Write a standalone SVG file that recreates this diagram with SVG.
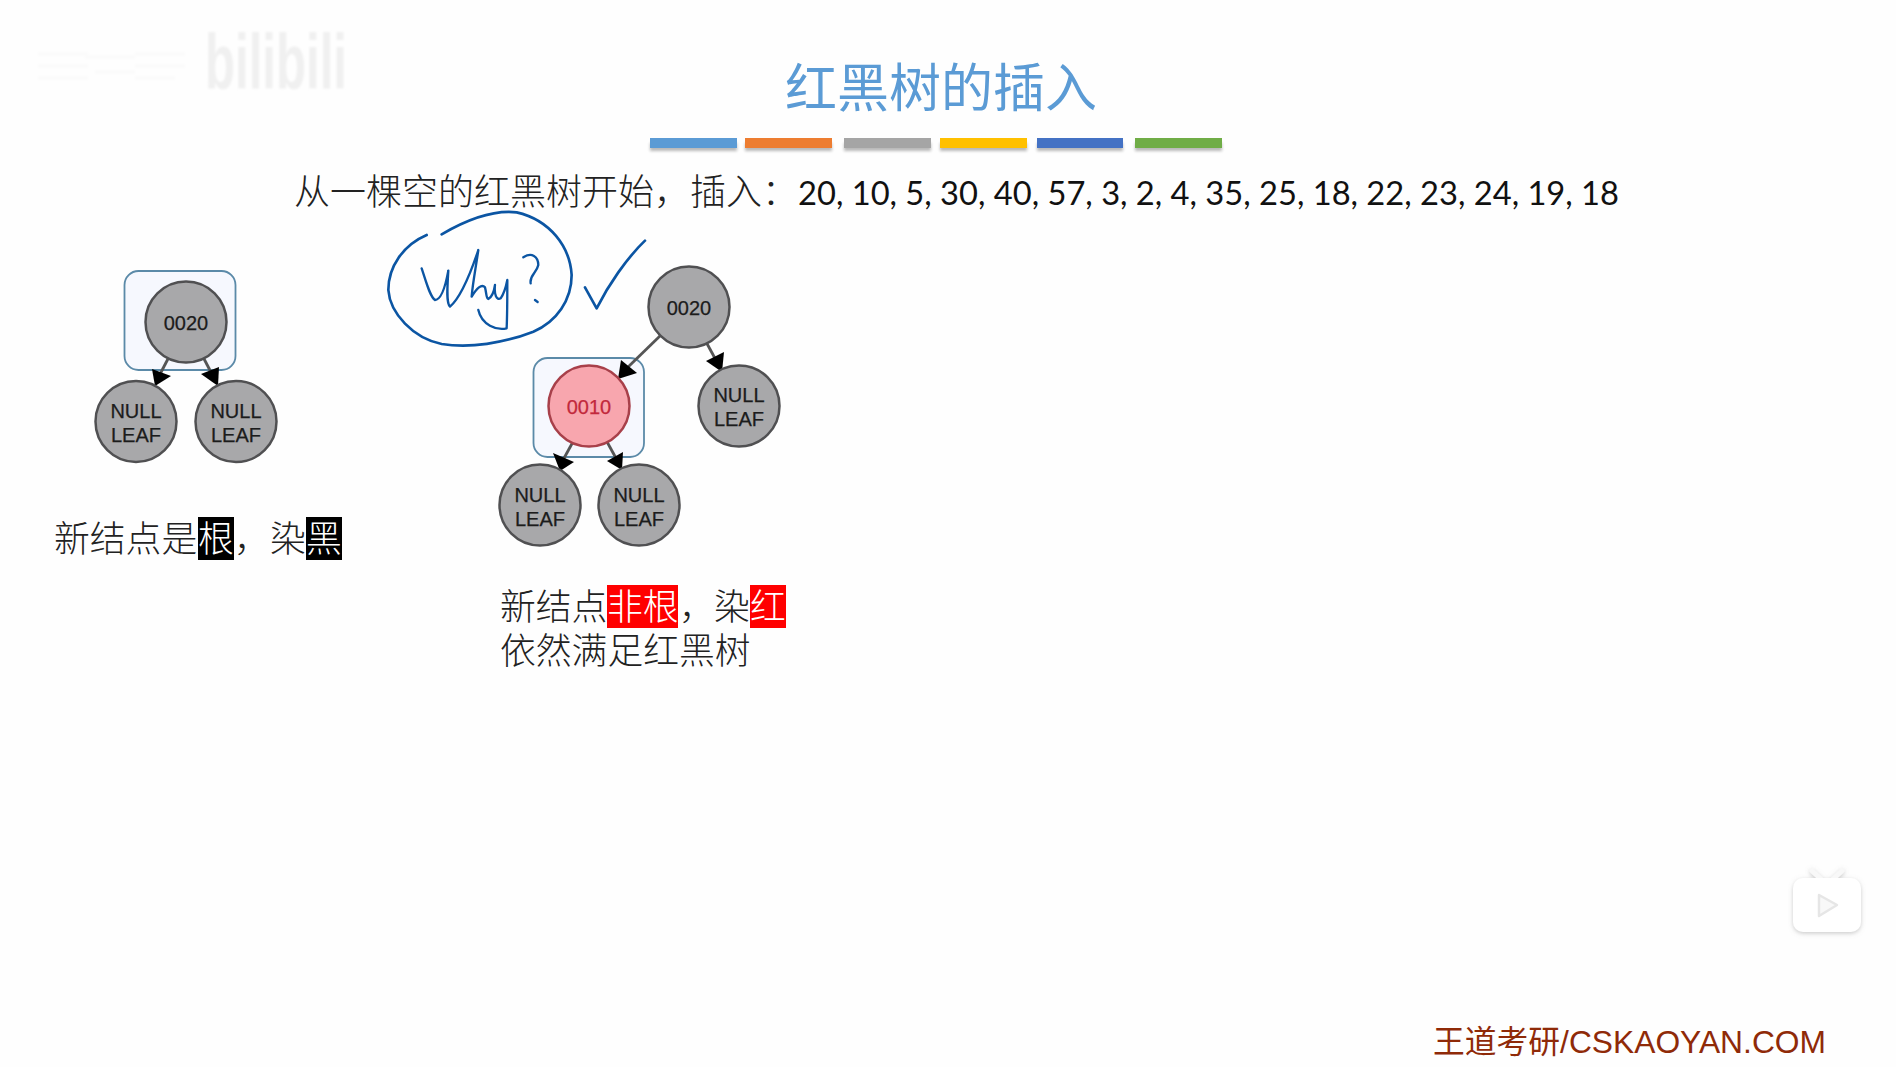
<svg xmlns="http://www.w3.org/2000/svg" width="1896" height="1067" viewBox="0 0 1896 1067">
<defs>
<style>
.cjk{font-family:"Noto Sans CJK SC","Liberation Sans",sans-serif;font-weight:300}
.body{font-size:35.8px;fill:#222}
.inv{font-size:35.8px;fill:#fff}
.n{fill:#a8a8aa;stroke:#505052;stroke-width:2.5}
.r{fill:#f8a6ae;stroke:#a8404a;stroke-width:2.5}
.t{font-family:"Liberation Sans",Arial,sans-serif;font-size:20px;fill:#1c1c1c;text-anchor:middle;stroke:#1c1c1c;stroke-width:0.25}
.box{fill:#f6f8fe;stroke:#5b8aa8;stroke-width:1.8}
.e{stroke:#555;stroke-width:2.8;fill:none}
.h{fill:#000}
.ink{fill:none;stroke:#0b55a3;stroke-width:8;stroke-linecap:round;stroke-linejoin:round}
.ink2{stroke-width:7}
.wm{fill:#f0f0f0}
.sm{fill:#fbfbfb}
</style>
<filter id="sh" x="-10%" y="-50%" width="120%" height="220%"><feGaussianBlur stdDeviation="1.5"/></filter>
<filter id="soft" x="-5%" y="-5%" width="110%" height="110%"><feGaussianBlur stdDeviation="0.8"/></filter>
<filter id="ic" x="-20%" y="-20%" width="140%" height="140%"><feDropShadow dx="0" dy="1.5" stdDeviation="2" flood-color="#999" flood-opacity="0.5"/></filter>
</defs>
<rect width="1896" height="1067" fill="#fefefe"/>

<g id="watermark" filter="url(#soft)">
<rect class="sm" x="38" y="52" width="50" height="4"/><rect class="sm" x="38" y="64" width="50" height="4"/><rect class="sm" x="38" y="76" width="50" height="4"/>
<rect class="sm" x="85" y="55" width="50" height="4"/><rect class="sm" x="95" y="70" width="40" height="4"/>
<rect class="sm" x="135" y="52" width="50" height="4"/><rect class="sm" x="135" y="64" width="50" height="4"/><rect class="sm" x="135" y="76" width="40" height="4"/>
<text x="205" y="89" font-family="Liberation Sans,sans-serif" font-weight="700" font-size="78" class="wm" textLength="142" lengthAdjust="spacingAndGlyphs">bilibili</text>
</g>

<g id="title"><text class="cjk" x="941" y="107" font-size="52" fill="#5b9bd5" text-anchor="middle" style="font-weight:400">红黑树的插入</text></g>

<g id="bars">
<g fill="#8a8a8a" opacity="0.6" filter="url(#sh)">
<rect x="650" y="143" width="87" height="8"/><rect x="745" y="143" width="87" height="8"/><rect x="844" y="143" width="87" height="8"/><rect x="940" y="143" width="87" height="8"/><rect x="1037" y="143" width="86" height="8"/><rect x="1135" y="143" width="87" height="8"/>
</g>
<rect x="650" y="138" width="87" height="10" fill="#5b9bd5"/>
<rect x="745" y="138" width="87" height="10" fill="#ed7d31"/>
<rect x="844" y="138" width="87" height="10" fill="#a5a5a5"/>
<rect x="940" y="138" width="87" height="10" fill="#ffc000"/>
<rect x="1037" y="138" width="86" height="10" fill="#4472c4"/>
<rect x="1135" y="138" width="87" height="10" fill="#70ad47"/>
</g>

<g id="intro">
<text class="cjk" x="294" y="205" fill="#222" font-size="36">从一棵空的红黑树开始&#xFF0C;插入&#xFF1A;</text>
<text x="798" y="205" font-family="Lato,sans-serif" font-size="33" fill="#111" textLength="821" lengthAdjust="spacingAndGlyphs">20, 10, 5, 30, 40, 57, 3, 2, 4, 35, 25, 18, 22, 23, 24, 19, 18</text>
</g>

<g id="handwriting" transform="translate(370,200) scale(0.3333)">
<path class="ink" d="M170 105C100 135 55 200 55 270C60 340 130 415 215 432C300 445 400 430 490 395C560 365 605 300 605 225C600 140 540 60 440 37C360 28 280 65 215 103"/>
<path class="ink" d="M645 262L680 325C715 255 770 175 825 122"/>
<path class="ink ink2" d="M155 205C170 250 180 290 195 300C215 300 228 250 235 212C232 260 228 310 240 320C275 290 305 210 325 150C318 200 308 250 305 290C320 265 335 250 345 262C350 280 348 295 355 297C368 290 372 275 375 255C372 285 380 302 392 295C403 280 408 260 412 240C412 290 412 340 410 385C380 392 335 375 325 330"/>
<path class="ink ink2" d="M460 172C485 155 505 170 505 195C500 220 478 225 482 250"/>
<path class="ink ink2" d="M495 300L503 306"/>
</g>

<g id="tree1-box"><rect class="box" x="124.500" y="271" width="111" height="99" rx="14"/></g>
<g id="tree2-box"><rect class="box" x="533.500" y="358" width="110.500" height="99" rx="14"/></g>

<g id="connectors">
<line class="e" x1="170" y1="355" x2="158" y2="378"/><polygon class="h" points="155,386 152,369 171,376"/>
<line class="e" x1="202" y1="355" x2="214" y2="378"/><polygon class="h" points="218,386 201,374 219,367"/>
<line class="e" x1="662" y1="334" x2="626" y2="369"/><polygon class="h" points="618,379 621,360 637,373"/>
<line class="e" x1="705" y1="340" x2="717" y2="362"/><polygon class="h" points="722,372 706,361 724,352"/>
<line class="e" x1="574" y1="440" x2="563" y2="460"/><polygon class="h" points="560,471 553,453 574,462"/>
<line class="e" x1="606" y1="440" x2="617" y2="460"/><polygon class="h" points="622,470 607,461 623,452"/>
</g>

<g id="node-a-0020"><circle class="n" cx="186" cy="322" r="40.500"/><text class="t" x="186" y="330">0020</text></g>
<g id="node-a-l"><circle class="n" cx="136" cy="421.500" r="40.500"/><text class="t" x="136" y="418">NULL</text><text class="t" x="136" y="442">LEAF</text></g>
<g id="node-a-r"><circle class="n" cx="236" cy="421.500" r="40.500"/><text class="t" x="236" y="418">NULL</text><text class="t" x="236" y="442">LEAF</text></g>

<g id="node-b-0020"><circle class="n" cx="689" cy="307" r="40.500"/><text class="t" x="689" y="315">0020</text></g>
<g id="node-b-l"><circle class="n" cx="739" cy="406" r="40.500"/><text class="t" x="739" y="402">NULL</text><text class="t" x="739" y="426">LEAF</text></g>
<g id="node-b-0010"><circle class="r" cx="589" cy="406" r="40.500"/><text class="t" x="589" y="414" style="fill:#c2293c;stroke:#c2293c">0010</text></g>
<g id="node-b-ll"><circle class="n" cx="540" cy="505" r="40.500"/><text class="t" x="540" y="502">NULL</text><text class="t" x="540" y="526">LEAF</text></g>
<g id="node-b-lr"><circle class="n" cx="639" cy="505" r="40.500"/><text class="t" x="639" y="502">NULL</text><text class="t" x="639" y="526">LEAF</text></g>

<g id="caption1">
<rect x="198" y="517" width="36" height="43" fill="#000"/><rect x="306" y="517" width="36" height="43" fill="#000"/>
<text class="cjk body" x="54" y="552">新结点是</text><text class="cjk inv" x="198" y="552">根</text><text class="cjk body" x="234" y="552">&#xFF0C;</text><text class="cjk body" x="270" y="552">染</text><text class="cjk inv" x="306" y="552">黑</text>
</g>

<g id="caption2">
<rect x="607" y="585" width="71" height="43" fill="#f00"/><rect x="750" y="585" width="36" height="43" fill="#f00"/>
<text class="cjk body" x="500" y="620">新结点</text><text class="cjk inv" x="607" y="620">非根</text><text class="cjk body" x="679" y="620">&#xFF0C;</text><text class="cjk body" x="714" y="620">染</text><text class="cjk inv" x="750" y="620">红</text>
<text class="cjk body" x="500" y="664">依然满足红黑树</text>
</g>

<g id="tv-icon" filter="url(#ic)">
<path d="M1812 871L1821 879M1842 871L1833 879" stroke="#f8f8f8" stroke-width="5" stroke-linecap="round"/>
<rect x="1793" y="878" width="68" height="54" rx="10" fill="#fff"/>
<path d="M1819 895L1837 905L1819 916Z" fill="#f8f8f8" stroke="#e6e6e6" stroke-width="2.500" stroke-linejoin="round"/>
</g>

<g id="footer">
<text x="1433" y="1053" font-size="32" fill="#8f2a08" font-family="Liberation Sans,Noto Sans CJK SC,sans-serif" textLength="393" lengthAdjust="spacingAndGlyphs">王道考研/CSKAOYAN.COM</text>
</g>
</svg>
